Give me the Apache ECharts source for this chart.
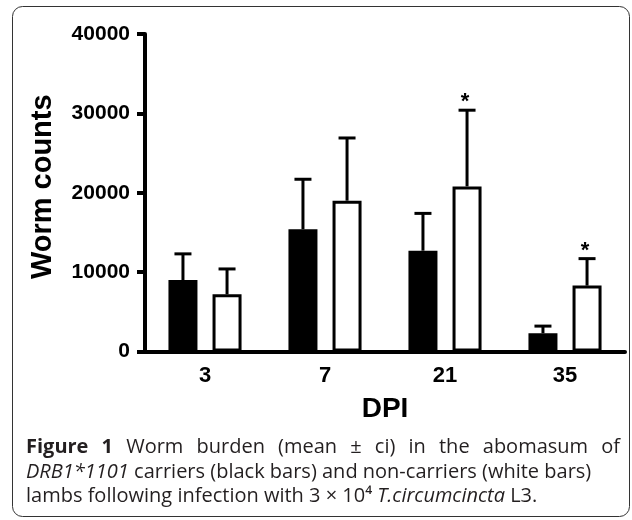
<!DOCTYPE html>
<html>
<head>
<meta charset="utf-8">
<script src="https://cdn.jsdelivr.net/npm/echarts@6/dist/echarts.min.js"></script>
<style>
  html, body { margin: 0; padding: 0; background: #fff; }
  #chart { width: 632px; height: 520px; }
</style>
</head>
<body>
<div id="chart"></div>
<script>
// worm counts
const days = ["3", "7", "21", "35"];
const carrierMean = [9000, 15400, 12700, 2300];
const carrierUpper = [12300, 21700, 17400, 3200];
const nonCarrierMean = [7200, 19000, 20800, 8300];
const nonCarrierUpper = [10400, 26900, 30400, 11700];
const nonCarrierStar = [false, false, true, true];
const yTicks = [0, 10000, 20000, 30000, 40000];

const axisFont = "'Liberation Sans', Arial, sans-serif";
const capFont = "'Open Sans', sans-serif";
const capSize = 20;
const capColor = "#231f20";
const barW = 29;
const barGapPct = 52;
const offset = (barW * (1 + barGapPct / 100)) / 2;

function errorSeries(mean, upper, dx, stars) {
  return {
    type: "custom",
    z: 1,
    data: days.map((d, i) => [i, mean[i], upper[i], stars && stars[i] ? 1 : 0]),
    encode: { x: 0, y: [1, 2] },
    renderItem(params, api) {
      const base = api.coord([api.value(0), api.value(1)]);
      const top = api.coord([api.value(0), api.value(2)]);
      const x = base[0] + dx;
      const st = { stroke: "#000", lineWidth: 3 };
      const children = [
        { type: "line", shape: { x1: x, y1: base[1], x2: x, y2: top[1] }, style: st },
        { type: "line", shape: { x1: x - 8.5, y1: top[1], x2: x + 8.5, y2: top[1] }, style: st },
      ];
      if (api.value(3)) {
        children.push({
          type: "text",
          style: { text: "*", x: x - 2, y: top[1] - 8, align: "center", verticalAlign: "middle",
                   font: "bold 22px " + axisFont, fill: "#000" },
        });
      }
      return { type: "group", children };
    },
  };
}

// caption: first line is justified, so lay out word by word
const ctx = document.createElement("canvas").getContext("2d");
function textW(t, font) { ctx.font = font; return ctx.measureText(t).width; }

const line1 = [["Figure", true], ["1", true], ["Worm"], ["burden"], ["(mean"], ["±"], ["ci)"],
               ["in"], ["the"], ["abomasum"], ["of"]];
const capLeft = 26, capRight = 620;
const regFont = capSize + "px " + capFont;
const boldFont = "bold " + capSize + "px " + capFont;
const widths = line1.map(w => textW(w[0], w[1] ? boldFont : regFont));
const gap = (capRight - capLeft - widths.reduce((a, b) => a + b, 0)) / (line1.length - 1);
const captionEls = [];
let cx = capLeft;
line1.forEach((w, i) => {
  captionEls.push({
    type: "text", x: cx, y: 447,
    style: { text: w[0], font: w[1] ? boldFont : regFont, fill: capColor, verticalAlign: "middle" },
  });
  cx += widths[i] + gap;
});
const richStyles = {
  i: { fontStyle: "italic", fontSize: capSize, fontFamily: capFont, fill: capColor },
  r: { fontSize: capSize, fontFamily: capFont, fill: capColor },
};
captionEls.push({
  type: "text", x: capLeft, y: 472,
  style: { text: "{i|DRB1*1101}{r| carriers (black bars) and non-carriers (white bars)}",
           rich: richStyles, fontSize: capSize, fontFamily: capFont, fill: capColor, verticalAlign: "middle" },
});
captionEls.push({
  type: "text", x: capLeft, y: 496,
  style: { text: "{r|lambs following infection with 3 × 10⁴ }{i|T.circumcincta}{r| L3.}",
           rich: richStyles, fontSize: capSize, fontFamily: capFont, fill: capColor, verticalAlign: "middle" },
});

const chart = echarts.init(document.getElementById("chart"), null, { renderer: "canvas" });
chart.setOption({
  animation: false,
  backgroundColor: "#fff",
  grid: { left: 145, right: 7, top: 34, bottom: 168.5 },
  xAxis: {
    type: "category",
    data: days,
    name: "DPI",
    nameLocation: "middle",
    nameGap: 44,
    nameTextStyle: { fontFamily: axisFont, fontWeight: "bold", fontSize: 28, color: "#000" },
    axisLine: { lineStyle: { color: "#000", width: 4 } },
    axisTick: { alignWithLabel: true, length: 9, lineStyle: { color: "#000", width: 4 } },
    axisLabel: { margin: 13, fontFamily: axisFont, fontWeight: "bold", fontSize: 22, color: "#000" },
  },
  yAxis: {
    type: "value",
    min: yTicks[0],
    max: yTicks[yTicks.length - 1],
    interval: yTicks[1] - yTicks[0],
    name: "Worm counts",
    nameLocation: "middle",
    nameGap: 88,
    nameTextStyle: { fontFamily: axisFont, fontWeight: "bold", fontSize: 29, color: "#000",
                     padding: [0, 0, 0, 12] },
    axisLine: { show: true, lineStyle: { color: "#000", width: 4 } },
    axisTick: { show: true, length: 8, lineStyle: { color: "#000", width: 4 } },
    axisLabel: { margin: 15, fontFamily: axisFont, fontWeight: "bold", fontSize: 21, color: "#000",
                 formatter: v => String(v) },
    splitLine: { show: false },
  },
  series: [
    errorSeries(carrierMean, carrierUpper, -offset),
    errorSeries(nonCarrierMean, nonCarrierUpper, offset, nonCarrierStar),
    { type: "bar", data: carrierMean, barWidth: barW, barGap: barGapPct + "%", z: 2,
      itemStyle: { color: "#000", borderColor: "#000", borderWidth: 3 } },
    { type: "bar", data: nonCarrierMean, barWidth: barW, z: 2,
      itemStyle: { color: "#fff", borderColor: "#000", borderWidth: 3 } },
  ],
  graphic: [
    { type: "rect", shape: { x: 12.5, y: 6.5, width: 617, height: 510, r: 10 },
      style: { fill: "none", stroke: "#333", lineWidth: 1 }, silent: true },
    { type: "group", children: captionEls },
  ],
});
</script>
</body>
</html>
